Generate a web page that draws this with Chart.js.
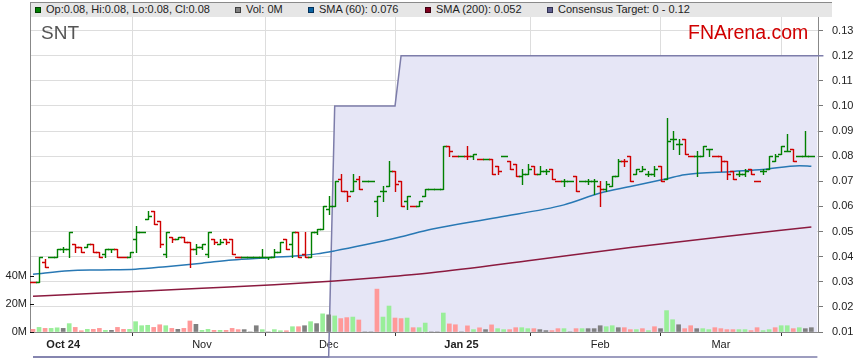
<!DOCTYPE html>
<html><head><meta charset="utf-8">
<script src="https://cdn.jsdelivr.net/npm/chart.js@4.4.1/dist/chart.umd.min.js"></script>
<style>
html,body{margin:0;padding:0;background:#fff;}
#wrap{position:relative;width:859px;height:363px;overflow:hidden;font-family:"Liberation Sans",Arial,sans-serif;}
#c{position:absolute;left:0;top:0;}
#band{position:absolute;left:30px;top:2px;width:801px;height:14px;background:#E6E6E6;border-top:1px solid #8a8a8a;border-left:1px solid #8a8a8a;}
.it{position:absolute;top:3px;font-size:11px;line-height:13px;color:#222;white-space:nowrap;}
.sw{position:absolute;top:7px;width:4px;height:4px;border:1px solid #333;}
#snt{position:absolute;left:41px;top:23px;font-size:19px;line-height:19px;color:#555;}
#fna{position:absolute;left:688px;top:23px;font-size:19.5px;line-height:19px;color:#D00000;}
</style></head>
<body><div id="wrap">
<canvas id="c" width="859" height="363"></canvas>
<div id="band"></div>
<div class="sw" style="left:35px;background:#008000;border-color:#004000"></div><div class="it" style="left:46px">Op:0.08, Hi:0.08, Lo:0.08, Cl:0.08</div>
<div class="sw" style="left:235px;background:#808080;border-color:#404040"></div><div class="it" style="left:246px">Vol: 0M</div>
<div class="sw" style="left:308px;background:#0a64a4;border-color:#04305a"></div><div class="it" style="left:319px">SMA (60): 0.076</div>
<div class="sw" style="left:425px;background:#800020;border-color:#400010"></div><div class="it" style="left:436px">SMA (200): 0.052</div>
<div class="sw" style="left:547px;background:#606090;border-color:#303050"></div><div class="it" style="left:558px">Consensus Target: 0 - 0.12</div>
<div id="snt">SNT</div>
<div id="fna">FNArena.com</div>
</div>
<script>
// trading-day categories (weekdays), grouped by month
const monthDays = [
 ['2024-09',[24,25,26,27,30]],
 ['2024-10',[1,2,3,4,7,8,9,10,11,14,15,16,17,18,21,22,23,24,25,28,29,30,31]],
 ['2024-11',[1,4,5,6,7,8,11,12,13,14,15,18,19,20,21,22,25,26,27,28,29]],
 ['2024-12',[2,3,4,5,6,9,10,11,12,13,16,17,18,19,20,23,24,25,26,27,30,31]],
 ['2025-01',[1,2,3,6,7,8,9,10,13,14,15,16,17,20,21,22,23,24,27,28,29,30,31]],
 ['2025-02',[3,4,5,6,7,10,11,12,13,14,17,18,19,20,21,24,25,26,27,28]],
 ['2025-03',[3,4,5,6,7,10,11,12,13,14,17,18,19,20,21,24,25]]
];
const dates = [];
monthDays.forEach(([m,ds]) => ds.forEach(d => dates.push(m + '-' + String(d).padStart(2,'0'))));
const tickMonths = ['2024-10','2024-11','2024-12','2025-01','2025-02','2025-03'];
const tickLabels = ['Oct 24','Nov','Dec','Jan 25','Feb','Mar'];
const priceTicks = [0.01,0.02,0.03,0.04,0.05,0.06,0.07,0.08,0.09,0.10,0.11,0.12,0.13];
const volTicks = [0,20,40]; // millions

const openP = [.030,.030,.038,.040,.040,.043,.043,.045,.044,.044,.045,.042,.041,.043,.043,.040,.040,.047,.050,.055,
.058,.054,.041,.048,.047,.048,.046,.043,.044,.041,.047,.045,.047,.047,.040,.040,.040,.040,.040,.040,
.040,.042,.047,.045,.050,.041,.040,.050,.051,.059,.060,.071,.066,.066,.071,.070,.070,.062,.066,.068,
.074,.070,.062,.060,.060,.064,.067,.067,.067,.084,.080,.080,.080,.080,.079,.079,.079,.076,.080,.078,
.077,.072,.073,.076,.073,.074,.075,.070,.070,.070,.072,.070,.070,.070,.068,.067,.068,.072,.078,.080,
.073,.074,.073,.073,.076,.071,.087,.085,.087,.080,.080,.080,.083,.080,.080,.078,.074,.073,.073,.075,
.070,.074,.075,.078,.081,.082,.083,.080,.080,.080];
const highP = [.030,.040,.039,.040,.043,.044,.050,.045,.044,.045,.045,.042,.043,.043,.043,.040,.042,.052,.050,.058,
.058,.054,.050,.048,.048,.048,.046,.045,.045,.050,.047,.047,.047,.047,.040,.040,.040,.040,.043,.040,
.043,.046,.047,.050,.050,.050,.050,.051,.060,.064,.070,.073,.066,.073,.072,.070,.070,.064,.068,.078,
.074,.070,.064,.060,.062,.067,.067,.067,.084,.084,.080,.080,.084,.081,.079,.079,.079,.076,.080,.078,
.077,.075,.077,.076,.076,.075,.075,.070,.071,.070,.072,.070,.071,.071,.070,.070,.072,.079,.079,.080,
.075,.076,.074,.076,.076,.095,.090,.087,.087,.080,.082,.084,.083,.080,.080,.078,.074,.074,.075,.075,
.070,.075,.080,.081,.084,.089,.083,.080,.090,.080];
const lowP = [.030,.030,.036,.040,.040,.042,.040,.042,.042,.044,.042,.040,.040,.042,.040,.040,.040,.042,.050,.055,
.053,.044,.040,.046,.047,.046,.036,.041,.043,.040,.045,.045,.045,.041,.040,.040,.040,.040,.040,.039,
.040,.042,.043,.040,.040,.040,.040,.049,.051,.057,.060,.066,.062,.066,.067,.070,.070,.056,.062,.068,
.066,.060,.059,.060,.060,.064,.067,.067,.067,.080,.080,.080,.079,.079,.079,.079,.073,.073,.080,.075,
.072,.069,.073,.073,.073,.073,.071,.070,.068,.070,.066,.070,.069,.065,.060,.066,.068,.072,.076,.070,
.073,.074,.072,.072,.070,.071,.083,.081,.081,.080,.072,.080,.080,.080,.074,.071,.071,.072,.072,.073,
.070,.073,.075,.078,.081,.082,.078,.080,.080,.080];
const closeP = [.030,.040,.036,.040,.043,.043,.050,.044,.042,.045,.042,.040,.043,.043,.040,.040,.042,.050,.050,.056,
.053,.045,.050,.047,.048,.046,.043,.044,.045,.050,.046,.046,.046,.041,.040,.040,.040,.040,.040,.040,
.042,.046,.043,.050,.040,.040,.050,.051,.060,.060,.070,.066,.064,.070,.067,.070,.070,.064,.066,.074,
.069,.060,.064,.060,.062,.067,.067,.067,.084,.082,.080,.080,.080,.081,.079,.079,.073,.074,.080,.075,
.072,.073,.075,.073,.074,.074,.071,.070,.070,.070,.066,.070,.070,.070,.067,.069,.072,.078,.078,.070,
.075,.075,.073,.075,.070,.086,.087,.085,.081,.080,.080,.084,.083,.080,.078,.073,.071,.073,.074,.073,
.070,.074,.080,.080,.084,.082,.078,.080,.080,.080];
// volume in millions, and day direction (1 up, -1 down, 0 unchanged)
const volume = [1.9,3.3,2.6,2.6,3.0,2.6,6.0,3.3,0.9,1.9,1.9,2.6,1.2,1.2,3.3,1.9,1.9,7.4,4.5,4.8,
3.3,5.2,4.5,2.6,1.9,2.6,7.9,5.5,1.2,1.9,1.2,1.2,1.2,2.6,1.7,1.7,0,4.5,1.7,0,
1.7,0.9,0.9,3.8,3.8,4.5,7.4,6.0,13.0,12.3,11.5,9.6,10.3,10.7,8.6,0,0,30.7,10.7,18.6,
10.0,9.6,10.0,3.1,3.1,6.4,0,0,13.6,5.8,5.2,0,4.4,1.7,3.0,1.7,5.1,2.4,1.7,1.7,
3.1,3.1,2.4,2.4,1.7,1.0,1.0,2.4,2.4,0,2.4,2.4,2.4,2.4,4.5,3.8,4.5,3.1,3.1,1.7,
1.7,2.4,1.0,3.8,2.4,15.3,8.8,5.2,2.4,4.5,2.4,2.4,1.7,3.1,2.4,1.7,1.7,1.7,1.7,1.0,
3.1,1.0,1.7,3.1,4.5,4.5,2.4,3.1,2.4,3.1];
const volDir = [-1,1,-1,1,1,0,1,-1,-1,1,-1,-1,1,0,-1,-1,1,1,1,1,
-1,-1,1,-1,0,-1,-1,0,1,1,-1,1,-1,-1,-1,0,0,0,1,0,
1,1,-1,1,-1,0,1,0,1,0,1,-1,-1,1,-1,0,0,-1,1,1,
-1,-1,1,-1,1,1,0,0,1,-1,-1,0,-1,1,-1,0,-1,1,1,-1,
-1,1,1,-1,0,0,-1,-1,1,0,-1,1,0,0,0,1,1,0,-1,-1,
1,-1,1,-1,0,1,1,0,-1,-1,0,1,1,-1,-1,-1,-1,1,1,-1,
-1,1,1,-1,1,1,-1,1,0,0];
// moving averages read at sample days: [day index, value]
const sma60 = [[0,.0330],[6,.0344],[11,.0347],[17,.0350],[22,.0360],[28,.0374],[33,.0387],[39,.0396],[44,.0404],[47,.0411],
[50,.0423],[55,.0447],[61,.0479],[66,.0509],[77,.0556],[88,.0606],[94,.0653],[99,.0679],[105,.0710],[108,.0726],
[116,.0739],[121,.0747],[127,.0762],[129,.0760]];
const sma200 = [[0,.0242],[14,.0258],[28,.0274],[40,.0288],[50,.0303],[58,.0318],[66,.0336],[83,.0387],[99,.0436],[114,.0478],[129,.0518]];
// consensus target range (low/high) per day, incl. the next session
const targetLow = dates.map(() => 0);
const targetHigh = [0,0,0,0,0,0,0,0,0,0,0,0,0,0,0,0,0,0,0,0,0,0,0,0,0,0,0,0,0,0,0,0,0,0,0,0,0,0,0,0,0,0,0,0,0,0,0,0,0,0,
.10,.10,.10,.10,.10,.10,.10,.10,.10,.10,.10,
.12,.12,.12,.12,.12,.12,.12,.12,.12,.12,.12,.12,.12,.12,.12,.12,.12,.12,.12,.12,.12,.12,.12,.12,.12,.12,.12,.12,.12,.12,
.12,.12,.12,.12,.12,.12,.12,.12,.12,.12,.12,.12,.12,.12,.12,.12,.12,.12,.12,.12,.12,.12,.12,.12,.12,.12,.12,.12,.12,.12,
.12,.12,.12,.12,.12,.12,.12,.12,.12,.12,.12,.12,.12,.12,.12,.12,.12,.12,.12,.12,.12,.12,.12,.12,.12,.12,.12,.12,.12,.12];

const FONT = '"Liberation Sans", Arial, sans-serif';
const GREEN = '#008000', RED = '#D00000';
const tickIdx = tickMonths.map(m => dates.findIndex(d => d.startsWith(m)));

const ohlcPlugin = {
  id: 'ohlc',
  afterDatasetsDraw(chart) {
    const {ctx, chartArea: a, scales} = chart;
    const x = scales.x, y = scales.y, yv = scales.yVol;
    ctx.save();
    ctx.beginPath(); ctx.rect(a.left, a.top, a.right - a.left, a.bottom - a.top); ctx.clip();
    ctx.lineWidth = 1.4;
    ctx.lineCap = 'butt';
    for (let i = 0; i < closeP.length; i++) {
      const px = Math.round(x.getPixelForValue(i)) + 0.5;
      const yo = Math.round(y.getPixelForValue(openP[i])) + 0.5;
      const yh = Math.round(y.getPixelForValue(highP[i]));
      const yl = Math.round(y.getPixelForValue(lowP[i])) + 1;
      const yc = Math.round(y.getPixelForValue(closeP[i])) + 0.5;
      const up = closeP[i] > openP[i] || (closeP[i] === openP[i] && volDir[i] >= 0);
      ctx.strokeStyle = up ? GREEN : RED;
      ctx.beginPath();
      ctx.moveTo(px, yh); ctx.lineTo(px, yl);
      ctx.moveTo(px - 3.5, yo); ctx.lineTo(px, yo);
      ctx.moveTo(px, yc); ctx.lineTo(px + 3.5, yc);
      ctx.stroke();
    }
    ctx.restore();
    // volume axis tick marks (inside plot)
    ctx.save();
    ctx.fillStyle = '#111';
    volTicks.forEach(v => {
      const py = Math.round(yv.getPixelForValue(v * 1e6));
      ctx.fillRect(a.left, py, 4, 1);
    });
    ctx.restore();
  }
};

const chart = new Chart(document.getElementById('c'), {
  type: 'bar',
  data: {
    datasets: [
      { type: 'line', label: 'targetLow', data: targetLow.map((v, i) => ({x: i, y: v})), borderColor: '#7d7daa', borderWidth: 1.5,
        pointRadius: 0, fill: false, clip: false, order: 20 },
      { type: 'line', label: 'Consensus Target', data: targetHigh.map((v, i) => ({x: i, y: v})), borderColor: '#7d7daa', borderWidth: 1.5,
        pointRadius: 0, fill: {target: 0}, backgroundColor: '#E6E6F6', clip: false, order: 19 },
      { type: 'bar', label: 'Vol', yAxisID: 'yVol', data: volume.map((v, i) => ({x: i, y: v * 1e6})), barThickness: 4,
        backgroundColor: volume.map((v, i) => volDir[i] > 0 ? '#99EE99' : (volDir[i] < 0 ? '#FF9999' : '#808080')), order: 5 },
      { type: 'line', label: 'SMA (200)', data: sma200.map(([i, v]) => ({x: i, y: v})), borderColor: '#8B1A3F', borderWidth: 1.5,
        pointRadius: 0, cubicInterpolationMode: 'monotone', fill: false, order: 4 },
      { type: 'line', label: 'SMA (60)', data: sma60.map(([i, v]) => ({x: i, y: v})), borderColor: '#2878B4', borderWidth: 1.5,
        pointRadius: 0, cubicInterpolationMode: 'monotone', fill: false, order: 3 }
    ]
  },
  options: {
    responsive: false, animation: false, devicePixelRatio: 1,
    layout: { padding: { top: 17, left: 0, right: 0, bottom: 0 } },
    plugins: { legend: { display: false }, tooltip: { enabled: false } },
    scales: {
      x: {
        type: 'linear', min: -0.5, max: 130.1, offset: false,
        grid: { color: '#DDDDDD', tickColor: '#333', tickLength: 4 },
        border: { color: '#888' },
        afterBuildTicks: s => { s.ticks = tickIdx.map(v => ({value: v})); },
        ticks: {
          autoSkip: false, maxRotation: 0, padding: 2, color: '#222',
          font: c => ({ family: FONT, size: 11, weight: (c.tick && tickLabels[tickIdx.indexOf(c.tick.value)] || '').includes(' ') ? 'bold' : 'normal' }),
          callback: v => tickLabels[tickIdx.indexOf(v)]
        },
        afterFit: s => { s.height = 31; }
      },
      y: {
        type: 'linear', position: 'right', min: 0.01, max: 0.1354,
        grid: { color: '#DDDDDD', tickColor: '#777', tickLength: 5 },
        border: { color: '#888' },
        afterBuildTicks: s => { s.ticks = priceTicks.map(v => ({value: v})); },
        ticks: { padding: 9, color: '#222', font: { family: FONT, size: 11 }, callback: v => v.toFixed(2) },
        afterFit: s => { s.width = 41; }
      },
      yVol: {
        type: 'linear', position: 'left', min: 0, max: 225.6e6,
        grid: { drawOnChartArea: false, drawTicks: false },
        border: { color: '#888' },
        afterBuildTicks: s => { s.ticks = volTicks.map(v => ({value: v * 1e6})); },
        ticks: { padding: 3, color: '#222', font: { family: FONT, size: 11 }, callback: v => Math.round(v / 1e6) + 'M' },
        afterFit: s => { s.width = 30; }
      }
    }
  },
  plugins: [ohlcPlugin]
});
</script>
</body></html>
